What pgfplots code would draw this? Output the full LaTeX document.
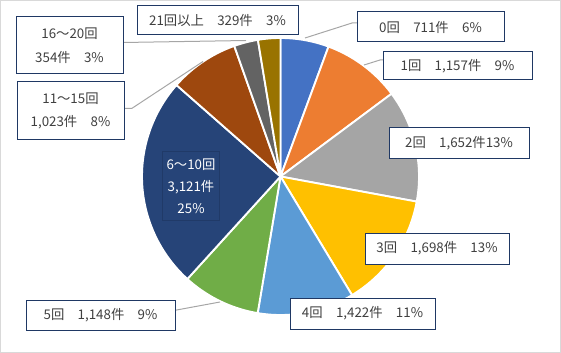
\documentclass[border=0pt]{standalone}
\usepackage{pgfplots}
\pgfplotsset{compat=1.18}
\usepackage{fontspec}
\setmainfont{Noto Sans CJK JP}
\definecolor{c0}{HTML}{4472C4}
\definecolor{c1}{HTML}{ED7D31}
\definecolor{c2}{HTML}{A5A5A5}
\definecolor{c3}{HTML}{FFC000}
\definecolor{c4}{HTML}{5B9BD5}
\definecolor{c5}{HTML}{70AD47}
\definecolor{c6}{HTML}{264478}
\definecolor{c7}{HTML}{9E480E}
\definecolor{c8}{HTML}{636363}
\definecolor{c9}{HTML}{997300}
\definecolor{boxline}{HTML}{1F3864}
\definecolor{txt}{HTML}{404040}
\definecolor{leader}{HTML}{A6A6A6}
\definecolor{frame}{HTML}{D9D9D9}
\def\cx{280.5}
\def\cy{176.5}
\def\rr{138.5}
\def\total{12615}
\gdef\cum{0}
\newcommand\slice[2]{%
  \pgfmathsetmacro\sa{\cum/\total*360}%
  \pgfmathsetmacro\cumnew{\cum+#1}%
  \pgfmathsetmacro\sb{\cumnew/\total*360}%
  \edef\tmp{\noexpand\addplot[fill=#2, draw=white, line width=1.4pt, line join=round, domain=\sa:\sb, samples=60, variable=\noexpand\t]
    ({\cx+\rr*sin(\noexpand\t)},{\cy-\rr*cos(\noexpand\t)}) -- (axis cs:\cx,\cy) -- cycle;}%
  \tmp
  \xdef\cum{\cumnew}%
}
\tikzset{lbl/.style={draw=boxline, line width=0.75pt, fill=white, text=txt, font=\fontsize{10}{13}\selectfont, align=center, inner sep=0pt, anchor=center}}
\begin{document}
\begin{tikzpicture}
\begin{axis}[
  scale only axis, width=420.75pt, height=264.75pt,
  xmin=0, xmax=561, ymin=0, ymax=353, y dir=reverse,
  hide axis, clip=false,
]
% outer frame
\draw[frame, line width=0.75pt] (axis cs:0.5,0.5) rectangle (axis cs:560.5,352.5);
% leader lines behind pie
\draw[leader, line width=0.75pt] (axis cs:123,42.5) -- (axis cs:246,40.5);
% slices
\slice{711}{c0}
\slice{1157}{c1}
\slice{1652}{c2}
\slice{1698}{c3}
\slice{1422}{c4}
\slice{1148}{c5}
\slice{3121}{c6}
\slice{1023}{c7}
\slice{354}{c8}
\slice{329}{c9}
% leader lines
\draw[leader, line width=0.75pt] (axis cs:305,38) -- (axis cs:352,23) -- (axis cs:357,23);
\draw[leader, line width=0.75pt] (axis cs:364,65) -- (axis cs:380,60) -- (axis cs:383,60);
\draw[leader, line width=0.75pt] (axis cs:203,61.5) -- (axis cs:132,108.3) -- (axis cs:124,108.3);
\draw[leader, line width=0.75pt] (axis cs:220,302) -- (axis cs:175,310.3);
% labels
\node[lbl, minimum width=110.25pt, minimum height=22.5pt] at (axis cs:430.5,27) {0回　711件　6\%};
\node[lbl, minimum width=111.75pt, minimum height=21pt] at (axis cs:457.5,66) {1回　1,157件　9\%};
\node[lbl, minimum width=105pt, minimum height=23.25pt] at (axis cs:459,143.5) {2回　1,652件13\%};
\node[lbl, minimum width=108pt, minimum height=23.25pt] at (axis cs:437,248.5) {3回　1,698件　13\%};
\node[lbl, minimum width=108.75pt, minimum height=23.25pt] at (axis cs:362.5,313.5) {4回　1,422件　11\%};
\node[lbl, minimum width=111.75pt, minimum height=22.5pt] at (axis cs:100.5,315) {5回　1,148件　9\%};
\node[lbl, draw=boxline!80!c6, fill=none, text=white, minimum width=42.75pt, minimum height=51pt, font=\fontsize{10}{16.5}\selectfont] at (axis cs:191,186) {6～10回\\3,121件\\25\%};
\node[lbl, minimum width=80.25pt, minimum height=43.5pt, font=\fontsize{10}{17.5}\selectfont] at (axis cs:70.5,111) {11～15回\\1,023件　8\%};
\node[lbl, minimum width=80.25pt, minimum height=42.75pt, font=\fontsize{10}{18}\selectfont] at (axis cs:69.5,45.5) {16～20回\\354件　3\%};
\node[lbl, minimum width=120.75pt, minimum height=21.75pt] at (axis cs:217.5,20.5) {21回以上　329件　3\%};
\end{axis}
\end{tikzpicture}
\end{document}
